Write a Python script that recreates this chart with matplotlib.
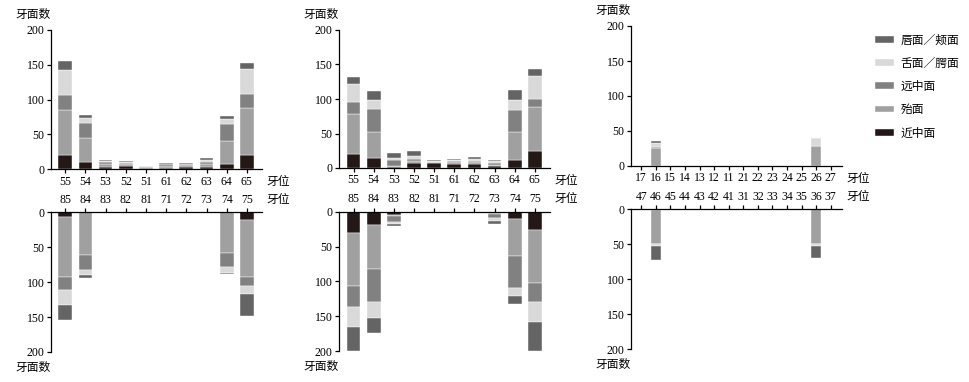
import numpy as np
import matplotlib.pyplot as plt

plt.rcParams['font.family'] = ['Liberation Serif', 'Noto Sans CJK SC']
plt.rcParams['font.size'] = 8.5

# tooth positions
teeth_up_a = ['55', '54', '53', '52', '51', '61', '62', '63', '64', '65']
teeth_low_a = ['85', '84', '83', '82', '81', '71', '72', '73', '74', '75']
teeth_up_b = ['17', '16', '15', '14', '13', '12', '11', '21', '22', '23', '24', '25', '26', '27']
teeth_low_b = ['47', '46', '45', '44', '43', '42', '41', '31', '32', '33', '34', '35', '36', '37']

# stacking order bottom -> top
surfaces = ['近中面', '殆面', '远中面', '舌面／腭面', '唇面／颊面']
colors = ['#231815', '#a0a0a0', '#818181', '#d9d9d9', '#646464']

# rows follow surfaces, columns follow teeth
p1_up = [[21, 11, 3, 5, 1, 2, 4, 4, 7, 20],
         [64, 34, 4, 2, 2, 3, 2, 3, 33, 68],
         [22, 22, 3, 2, 0, 2, 1, 4, 25, 20],
         [35, 6, 2, 1, 2, 1, 1, 2, 7, 36],
         [13, 5, 2, 2, 0, 1, 1, 3, 5, 8]]
p1_low = [[7, 0, 0, 0, 0, 0, 0, 0, 0, 11],
          [86, 61, 0, 0, 0, 0, 0, 0, 58, 82],
          [18, 21, 0, 0, 0, 0, 0, 0, 21, 12],
          [21, 8, 0, 0, 0, 0, 0, 0, 8, 12],
          [22, 4, 0, 0, 0, 0, 0, 0, 2, 31]]
p2_up = [[20, 14, 2, 7, 7, 6, 6, 3, 11, 25],
         [58, 38, 1, 3, 1, 2, 2, 2, 41, 63],
         [17, 34, 9, 3, 1, 2, 2, 2, 32, 12],
         [27, 13, 3, 5, 1, 2, 3, 3, 15, 34],
         [10, 13, 7, 7, 1, 1, 3, 2, 14, 9]]
p2_low = [[30, 19, 5, 1, 0, 0, 1, 2, 11, 26],
          [77, 63, 1, 0, 0, 0, 0, 1, 53, 77],
          [30, 48, 9, 0, 0, 0, 0, 6, 45, 27],
          [29, 23, 3, 0, 0, 0, 0, 4, 12, 28],
          [34, 21, 3, 0, 0, 0, 0, 4, 11, 42]]
p3_up = [[0, 0, 0, 0, 0, 0, 0, 0, 0, 0, 0, 0, 0, 0],
         [0, 26, 0, 0, 0, 0, 0, 0, 0, 0, 0, 0, 29, 0],
         [0, 1, 0, 0, 0, 0, 0, 0, 0, 0, 0, 0, 0, 0],
         [0, 6, 0, 0, 0, 0, 0, 0, 0, 0, 0, 0, 11, 0],
         [0, 2, 0, 0, 0, 0, 0, 0, 0, 0, 0, 0, 0, 0]]
p3_low = [[0, 1, 0, 0, 0, 0, 0, 0, 0, 0, 0, 0, 0, 0],
          [0, 48, 0, 0, 0, 0, 0, 0, 0, 0, 0, 0, 49, 0],
          [0, 1, 0, 0, 0, 0, 0, 0, 0, 0, 0, 0, 1, 0],
          [0, 2, 0, 0, 0, 0, 0, 0, 0, 0, 0, 0, 2, 0],
          [0, 21, 0, 0, 0, 0, 0, 0, 0, 0, 0, 0, 17, 0]]

W, H = 970, 382
fig = plt.figure(figsize=(W / 100, H / 100), dpi=100)


def px_axes(left, right, top, bottom):
    return fig.add_axes([left / W, (H - bottom) / H, (right - left) / W, (bottom - top) / H])


def draw(ax, teeth, data, lower):
    x = np.arange(len(teeth))
    base = np.zeros(len(teeth))
    bars = []
    for vals, c, name in zip(data, colors, surfaces):
        vals = np.array(vals, dtype=float)
        b = ax.bar(x, vals, bottom=base, width=0.68, color=c, edgecolor='white',
                   linewidth=0.3, label=name)
        bars.append(b)
        base += vals
    ax.set_xlim(-0.72, len(teeth) - 0.25)
    ax.set_xticks(x)
    ax.set_xticklabels(teeth)
    ax.set_yticks([0, 50, 100, 150, 200])
    ax.spines['right'].set_visible(False)
    if lower:
        ax.set_ylim(200, 0)
        ax.spines['bottom'].set_visible(False)
        ax.xaxis.tick_top()
    else:
        ax.set_ylim(0, 200)
        ax.spines['top'].set_visible(False)
    for s in ax.spines.values():
        s.set_linewidth(0.9)
    ax.tick_params(length=3, width=0.9, pad=1.5)
    ax.tick_params(axis='x', labelsize=8.5)
    return bars


panels = [
    (50.7, 262, 30, 169.3, 212.3, 352, teeth_up_a, p1_up, teeth_low_a, p1_low),
    (339, 550, 30, 168, 211.7, 351, teeth_up_a, p2_up, teeth_low_a, p2_low),
    (630.7, 841.7, 26, 166, 209.3, 349.3, teeth_up_b, p3_up, teeth_low_b, p3_low),
]

for left, right, ut, ub, lt, lb, tu, du, tl, dl in panels:
    ax_u = px_axes(left, right, ut, ub)
    bars = draw(ax_u, tu, du, False)
    ax_l = px_axes(left, right, lt, lb)
    draw(ax_l, tl, dl, True)
    # axis titles
    fig.text((left - 18) / W, 1 - (ut - 15) / H, '牙面数', ha='center', va='center', fontsize=8.5)
    fig.text((left - 18) / W, 1 - (lb + 16) / H, '牙面数', ha='center', va='center', fontsize=8.5)
    fig.text((right + 5) / W, 1 - (ub + 12.5) / H, '牙位', ha='left', va='center', fontsize=8.5)
    fig.text((right + 5) / W, 1 - (lt - 12.5) / H, '牙位', ha='left', va='center', fontsize=8.5)

handles = bars[::-1]
fig.legend(handles, [h.get_label() for h in handles], loc='upper left',
           bbox_to_anchor=(864 / W, 1 - 24 / H), frameon=False, fontsize=8.5,
           handlelength=1.6, handleheight=0.5, labelspacing=0.95, handletextpad=0.6)

fig.savefig('out.png', dpi=100)
